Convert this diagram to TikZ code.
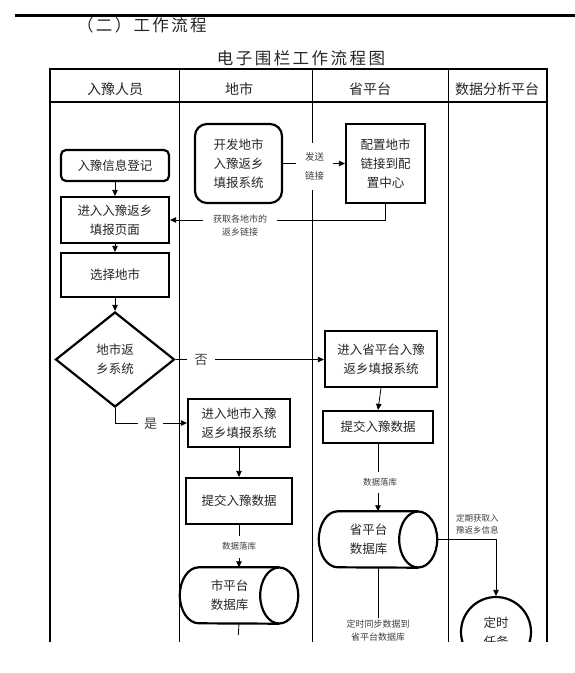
\documentclass[tikz,border=0pt]{standalone}
\usepackage{fontspec}
\setmainfont{Noto Sans CJK SC}
\usetikzlibrary{arrows.meta,shapes.geometric}
\begin{document}
\begin{tikzpicture}[x=1pt,y=-1pt,
  tx/.style={text=black!85},
  box/.style={draw=black, line width=2.2pt, rectangle, inner sep=0pt, align=center,
    font=\fontsize{12.5}{19}\selectfont, text=black!85},
  rbox/.style={box, rounded corners=#1},
  diam/.style={draw=black, line width=2.2pt, diamond, inner sep=0pt, align=center,
    font=\fontsize{12.5}{19}\selectfont, text=black!85, minimum width=119pt, minimum height=95pt},
  circ/.style={draw=black, line width=2.2pt, circle, inner sep=0pt, align=center,
    font=\fontsize{12.5}{19}\selectfont, text=black!85, minimum size=70pt},
  dbnode/.style={rectangle, inner sep=0pt, align=center, minimum width=99pt, minimum height=56pt,
    font=\fontsize{12.5}{19}\selectfont, text=black!85},
  cyl/.style={line width=2.2pt},
  conn/.style={line width=0.8pt, -{Triangle[length=6pt,width=5.5pt]}},
  plain/.style={line width=0.8pt},
  lbl/.style={fill=white, inner sep=0pt, align=center, font=\fontsize{9}{13}\selectfont, text=black!75},
  thinline/.style={line width=0.8pt},
  outer/.style={line width=2pt},
  hdr/.style={font=\fontsize{14}{16}\selectfont, text=black!85}
]
\useasboundingbox (0,0) rectangle (575,673);
\clip (0,0) rectangle (575,641.5);

% top rule and headings
\draw[line width=3pt] (15,15) -- (575,15);
\node[tx, anchor=west, inner sep=0pt, font={\fontsize{16.5}{18}\selectfont\addfontfeature{LetterSpace=14}}] (sec) at (77,25) {（二）工作流程};
\node[tx, inner sep=0pt, font={\fontsize{16.5}{20}\selectfont\addfontfeature{LetterSpace=15}}] (title) at (301,58) {电子围栏工作流程图};

% table
\draw[outer] (50,700) -- (50,69) -- (547,69) -- (547,700);
\draw[line width=1.2pt] (50,102) -- (547,102);
\draw[thinline] (179.5,69) -- (179.5,700);
\draw[thinline] (312.5,69) -- (312.5,700);
\draw[thinline] (448.5,69) -- (448.5,700);
\node[hdr] (h1) at (115,89) {入豫人员};
\node[hdr] (h2) at (239,89) {地市};
\node[hdr] (h3) at (370,89) {省平台};
\node[hdr] (h4) at (497,89) {数据分析平台};

% nodes
\node[rbox=5pt, minimum width=108pt, minimum height=31pt] (n1) at (115,165.5) {入豫信息登记};
\node[box, minimum width=108pt, minimum height=46pt] (n2) at (115,220) {进入入豫返乡\\填报页面};
\node[box, minimum width=108pt, minimum height=44pt] (n3) at (115,275) {选择地市};
\node[diam] (d) at (115,359.5) {地市返\\乡系统};
\node[rbox=12pt, minimum width=87pt, minimum height=79pt] (n4) at (238.5,163.5) {开发地市\\入豫返乡\\填报系统};
\node[box, minimum width=79pt, minimum height=79pt] (n5) at (385.5,163.5) {配置地市\\链接到配\\置中心};
\node[box, minimum width=112pt, minimum height=56pt] (n6) at (381,359) {进入省平台入豫\\返乡填报系统};
\node[box, minimum width=110pt, minimum height=32pt] (n7) at (378,427) {提交入豫数据};
\node[box, minimum width=102pt, minimum height=48pt] (n8) at (239,423) {进入地市入豫\\返乡填报系统};
\node[box, minimum width=106pt, minimum height=46pt] (n9) at (239,501) {提交入豫数据};
\node[dbnode] (db1) at (368.5,539.5) {省平台\\数据库};
\node[dbnode] (db2) at (229.5,595.5) {市平台\\数据库};
\node[circ] (c) at (496,632) {定时\\任务};

% cylinders
\draw[cyl] (db1.north east) -- ([xshift=19pt]db1.north west)
  arc[start angle=90, end angle=270, x radius=19pt, y radius=28pt] -- (db1.south east);
\draw[cyl] (db1.east) ellipse [x radius=19pt, y radius=28pt];
\draw[cyl] (db2.north east) -- ([xshift=19pt]db2.north west)
  arc[start angle=90, end angle=270, x radius=19pt, y radius=28pt] -- (db2.south east);
\draw[cyl] (db2.east) ellipse [x radius=19pt, y radius=28pt];

% connectors
\draw[conn] (n1) -- (n2);
\draw[conn] (n2) -- (n3);
\draw[conn] (n3) -- (d);
\draw[conn] (n4.east) -- (n5.west);
\draw[conn] (n5.south) |- (n2.east);
\draw[conn] (d.east) -- (n6.west |- d.east);
\draw[conn] (d.south) |- (n8.west);
\draw[conn] (n8) -- (n9);
\draw[conn] (n9.south) -- (n9.south |- db2.north);
\draw[conn] (n6.south) -- (n7.north);
\draw[conn] (n7.south) -- (n7.south |- db1.north);
\draw[conn] ([xshift=19pt]db1.east) -| (c.north);

% labels
\node[lbl, font=\fontsize{9.5}{19}\selectfont, minimum width=37pt, minimum height=47pt] (l1) at (314.5,166) {发送\\链接};
\node[lbl, minimum width=74pt, minimum height=12pt] (l2) at (240,225.5) {获取各地市的\\返乡链接};
\node[lbl, font=\fontsize{13}{15}\selectfont, minimum width=28pt, minimum height=16pt] (l3) at (201,359.5) {否};
\node[lbl, font=\fontsize{13}{15}\selectfont, minimum width=25pt, minimum height=16pt] (l4) at (150.5,424) {是};
\node[lbl, font=\fontsize{8.5}{12}\selectfont, minimum width=40pt, minimum height=22pt] (l5) at (239,546.5) {数据落库};
\node[lbl, font=\fontsize{8.5}{12}\selectfont, minimum width=40pt, minimum height=21pt] (l6) at (380,482.5) {数据落库};
\node[lbl, fill=none, anchor=west, align=left, font=\fontsize{8.5}{12}\selectfont] (l7) at (456,524) {定期获取入\\豫返乡信息};
\node[lbl, inner sep=2pt] (l8) at (378,630.5) {定时同步数据到\\省平台数据库};
\draw[plain] (n7.south |- db1.south) -- (l8.north);
\node[lbl, inner sep=2pt, font=\fontsize{8}{12}\selectfont] (l9) at (238,652) {定时同步数据到\\省平台数据库};
\draw[plain, shorten >=5pt] (n9.south |- db2.south) -- (l9.north);
\end{tikzpicture}
\end{document}
